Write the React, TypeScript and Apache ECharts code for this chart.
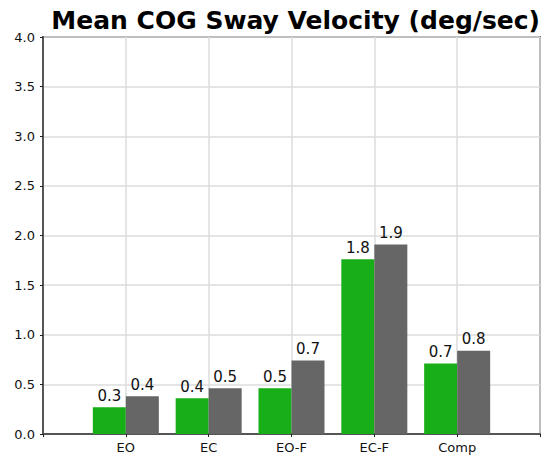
import React, { useEffect, useRef } from "react";
import * as echarts from "echarts";

const categories = ["", "EO", "EC", "EO-F", "EC-F", "Comp", ""];
const seriesA = [null, 0.27, 0.36, 0.46, 1.76, 0.71, null];
const seriesB = [null, 0.38, 0.46, 0.74, 1.91, 0.84, null];
const yTicks = [0, 0.5, 1, 1.5, 2, 2.5, 3, 3.5, 4];

export default function App() {
  const ref = useRef<HTMLDivElement>(null);
  useEffect(() => {
    const chart = echarts.init(ref.current!, null, { renderer: "svg" });
    const font = "DejaVu Sans, Verdana, sans-serif";
    const label = {
      show: true,
      position: "top" as const,
      distance: 4,
      color: "#111",
      fontSize: 15,
      fontFamily: font,
      formatter: (p: any) => Number(p.value).toFixed(1),
    };
    chart.setOption({
      animation: false,
      title: {
        text: "Mean COG Sway Velocity (deg/sec)",
        right: 3,
        top: 8,
        padding: 0,
        textStyle: { fontFamily: font, fontWeight: "bold", fontSize: 25, color: "#000" },
      },
      grid: {
        left: 43,
        right: 2,
        top: 37,
        bottom: 21,
        show: true,
        borderColor: "#666",
        borderWidth: 2,
        backgroundColor: "transparent",
      },
      xAxis: {
        type: "category",
        data: categories,
        boundaryGap: false,
        axisLine: { lineStyle: { color: "#555", width: 2 } },
        axisTick: { show: true, length: 3, lineStyle: { color: "#222" } },
        axisLabel: { color: "#111", fontSize: 13, fontFamily: font, margin: 7 },
        splitLine: { show: true, lineStyle: { color: "#ddd", width: 1.5 } },
      },
      yAxis: {
        type: "value",
        min: yTicks[0],
        max: yTicks[yTicks.length - 1],
        interval: 0.5,
        axisLine: { show: true, lineStyle: { color: "#555", width: 2 } },
        axisTick: { show: true, length: 3, lineStyle: { color: "#222" } },
        axisLabel: {
          color: "#111",
          fontSize: 13,
          fontFamily: font,
          margin: 8,
          formatter: (v: number) => v.toFixed(1),
        },
        splitLine: { show: true, lineStyle: { color: "#ddd", width: 1.5 } },
      },
      series: [
        {
          type: "bar",
          data: seriesA,
          barWidth: 33,
          barGap: "0%",
          itemStyle: { color: "#17AE17" },
          label,
        },
        {
          type: "bar",
          data: seriesB,
          barWidth: 33,
          barGap: "0%",
          itemStyle: { color: "#666666" },
          label,
        },
      ],
    });
    return () => chart.dispose();
  }, []);
  return <div ref={ref} style={{ width: 543, height: 455, position: "absolute", left: 0, top: 0 }} />;
}
